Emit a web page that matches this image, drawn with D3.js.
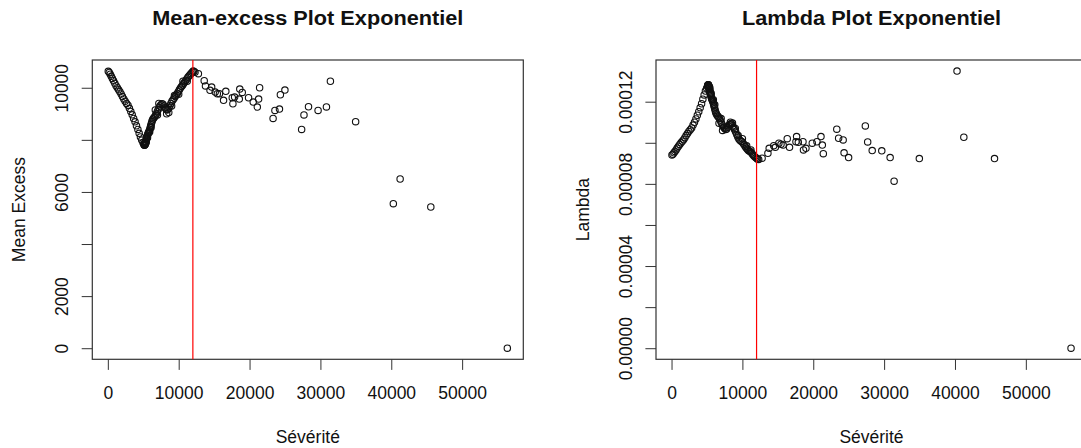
<!DOCTYPE html>
<html>
<head>
<meta charset="utf-8">
<script src="https://cdn.jsdelivr.net/npm/d3@7"></script>
<style>
  html, body { margin: 0; padding: 0; background: #fff; }
  svg { display: block; font-family: "Liberation Sans", Arial, Helvetica, sans-serif; }
</style>
</head>
<body>
<svg id="chart" width="1081" height="448"></svg>
<script>
// Seuils (sévérité) et statistiques associées
const severite = [
  60, 200, 340, 480, 640, 800, 980, 1160, 1340, 1520, 1700, 1880, 2060, 2250, 2440,
  2640, 2840, 3040, 3240, 3440, 3640, 3840, 4040, 4240, 4420, 4600, 4780, 4950, 5080,
  5110, 5140, 5170, 5200, 5230, 5260, 5290, 5320, 5350, 5380, 5410, 5440, 5470, 5510,
  5550, 5600, 5650, 5700, 5750, 5800, 5860, 5920, 5980, 6040, 6100, 6160, 6230, 6300,
  6400, 6500, 6620, 6740, 6860, 6980, 7100, 7230, 7360, 7500, 7640, 7780, 7920, 8060,
  8200, 8340, 8480, 8620, 8760, 8900, 9050, 9200, 9350, 9500, 9650, 9800, 9950, 10100,
  10250, 10400, 10550, 10700, 10850, 11000, 11150, 11300, 11450, 11600, 11750, 11900,
  12050, 12150,
  5250, 5400, 5600, 5900, 6100, 6700, 7000, 7200, 8300, 8600, 9000, 9400, 10000, 10600, 11200,
  12300, 12780, 13600, 13780, 14420, 14650, 15150, 15450, 15750, 16330, 16650, 17560,
  17650, 17890, 18550, 18620, 18970, 19860, 20520, 21090, 21280, 21420, 23320, 23580,
  24220, 24350, 24990, 27350, 27680, 28320, 29670, 30850, 31410, 34970, 40290, 41250,
  45580, 56380
];

const meanExcess = [
  10630, 10590, 10520, 10440, 10360, 10270, 10170, 10080, 10000, 9920, 9850, 9760, 9660, 9570, 9480,
  9400, 9330, 9210, 9090, 8960, 8820, 8690, 8540, 8400, 8250, 8110, 7990, 7900, 7850,
  7820, 7805, 7795, 7800, 7815, 7830, 7850, 7875, 7905, 7940, 7980, 8020, 8060, 8100,
  8135, 8175, 8215, 8250, 8280, 8310, 8350, 8400, 8460, 8520, 8580, 8640, 8700, 8760,
  8810, 8850, 8890, 8940, 9000, 9080, 9160, 9240, 9300, 9350, 9390, 9370, 9300, 9230,
  9180, 9150, 9170, 9230, 9310, 9400, 9480, 9540, 9600, 9660, 9720, 9780, 9850, 9920,
  9990, 10050, 10100, 10160, 10220, 10280, 10340, 10400, 10450, 10500, 10550, 10600,
  10640, 10620,
  7870, 7900, 8080, 8300, 8470, 9150, 8950, 9400, 9000, 9050, 9300, 9700, 9750, 10250, 10250,
  10600, 10540, 10270, 10070, 9900, 10027, 9835, 9770, 9770, 9517, 9862, 9616,
  9386, 9643, 9566, 9949, 9821, 9616, 9451, 9259, 9566, 10000, 8824, 9131,
  9182, 9732, 9912, 8400, 8955, 9270, 9131, 9265, 10250, 8696, 5549, 6497,
  5422, 0
];

const lambda = [
  0.0000941, 0.0000944, 0.0000951, 0.0000958, 0.0000965, 0.0000974, 0.0000983, 0.0000992, 0.0001000,
  0.0001008, 0.0001015, 0.0001025, 0.0001035, 0.0001045, 0.0001055, 0.0001064, 0.0001072, 0.0001086,
  0.0001100, 0.0001116, 0.0001134, 0.0001151, 0.0001171, 0.0001190, 0.0001212, 0.0001233, 0.0001252,
  0.0001266, 0.0001274,
  0.0001279, 0.0001281, 0.0001283, 0.0001282, 0.0001280, 0.0001277, 0.0001274, 0.0001270, 0.0001265,
  0.0001259, 0.0001253, 0.0001247, 0.0001241, 0.0001235, 0.0001229, 0.0001223, 0.0001217, 0.0001212,
  0.0001208, 0.0001203, 0.0001198, 0.0001190, 0.0001182, 0.0001174, 0.0001166, 0.0001157, 0.0001149,
  0.0001142, 0.0001135, 0.0001130, 0.0001125, 0.0001119, 0.0001111, 0.0001101, 0.0001092, 0.0001082,
  0.0001075, 0.0001070, 0.0001065, 0.0001067, 0.0001075, 0.0001083, 0.0001089, 0.0001093, 0.0001091,
  0.0001083, 0.0001074, 0.0001064, 0.0001052, 0.0001040, 0.0001028, 0.0001018, 0.0001012, 0.0001008,
  0.0001005, 0.0000998, 0.0000990, 0.0000982, 0.0000974, 0.0000968, 0.0000963, 0.0000959, 0.0000956,
  0.0000950, 0.0000943, 0.0000937, 0.0000932, 0.0000927, 0.0000923, 0.0000920,
  0.0001262, 0.0001268, 0.0001240, 0.0001210, 0.0001185, 0.0001095, 0.0001118, 0.0001060, 0.0001100,
  0.0001096, 0.0001070, 0.0001035, 0.0001020, 0.0000985, 0.0000965,
  0.0000919, 0.0000925, 0.0000949, 0.0000973, 0.0000986, 0.0000978, 0.0000998, 0.0000993, 0.0000989,
  0.0001020, 0.0000978, 0.0001005, 0.0001030, 0.0001002, 0.0001005, 0.0000965, 0.0000973, 0.0000998,
  0.0001005, 0.0001030, 0.0000989, 0.0000947, 0.0001066, 0.0001022, 0.0001014, 0.0000951, 0.0000928,
  0.0001082, 0.0001004, 0.0000962, 0.0000961, 0.0000928, 0.0000813, 0.0000923, 0.0001349, 0.0001027,
  0.0000923, 0
];

// Seuil retenu (ligne verticale rouge)
const seuil = 12000;

// Graduations
const xTicks = [0, 10000, 20000, 30000, 40000, 50000];
const yTicksME = [0, 2000, 4000, 6000, 8000, 10000];
const yLabelsME = [0, 2000, 6000, 10000];
const yTicksLambda = [0, 0.00002, 0.00004, 0.00006, 0.00008, 0.0001, 0.00012];
const yLabelsLambda = [0, 0.00004, 0.00008, 0.00012];

const svg = d3.select("#chart");
svg.append("rect").attr("width", 1081).attr("height", 448).attr("fill", "#fff");

const TOP = 60, BOTTOM = 359.3, PW = 431;
const INK = "#111";

function drawPanel(cfg) {
  const g = svg.append("g");
  const left = cfg.left;

  const [x0, x1] = d3.extent(severite);
  const xPad = (x1 - x0) * 0.04;
  const x = d3.scaleLinear().domain([x0 - xPad, x1 + xPad]).range([left, left + PW]);

  const [y0, y1] = d3.extent(cfg.values);
  const yPad = (y1 - y0) * 0.04;
  const y = d3.scaleLinear().domain([y0 - yPad, y1 + yPad]).range([BOTTOM, TOP]);

  // axe des abscisses
  const gx = g.append("g")
    .attr("transform", `translate(0,${BOTTOM})`)
    .call(d3.axisBottom(x).tickValues(xTicks).tickSize(10.6).tickPadding(16.2)
      .tickFormat(d3.format("d")));
  gx.select(".domain").remove();
  gx.selectAll("line").attr("stroke", "#333").attr("stroke-width", 1);
  gx.selectAll("text").attr("fill", INK).style("font-size", "17.5px")
    .style("font-family", "'Liberation Sans', Arial, sans-serif");

  // axe des ordonnées (étiquettes verticales)
  const gy = g.append("g")
    .attr("transform", `translate(${left},0)`)
    .call(d3.axisLeft(y).tickValues(cfg.yTicks).tickSize(10.6)
      .tickFormat(d => cfg.yLabels.includes(d) ? cfg.fmt(d) : ""));
  gy.select(".domain").remove();
  gy.selectAll("line").attr("stroke", "#333").attr("stroke-width", 1);
  gy.selectAll("text")
    .attr("fill", INK)
    .attr("transform", "rotate(-90)")
    .attr("x", 0).attr("y", -24.3).attr("dy", 0)
    .attr("text-anchor", "middle")
    .style("font-size", "17.5px")
    .style("font-family", "'Liberation Sans', Arial, sans-serif");

  // cadre
  g.append("rect")
    .attr("x", left).attr("y", TOP)
    .attr("width", PW).attr("height", BOTTOM - TOP)
    .attr("fill", "none").attr("stroke", "#333").attr("stroke-width", 1.2);

  // points
  g.append("g").selectAll("circle")
    .data(severite.map((s, i) => [s, cfg.values[i]]))
    .join("circle")
    .attr("cx", d => x(d[0]))
    .attr("cy", d => y(d[1]))
    .attr("r", 3.2)
    .attr("fill", "none")
    .attr("stroke", INK)
    .attr("stroke-width", 1.1);

  // seuil
  g.append("line")
    .attr("x1", x(seuil)).attr("x2", x(seuil))
    .attr("y1", TOP).attr("y2", BOTTOM)
    .attr("stroke", "#ff0000").attr("stroke-width", 1.2);

  // titres
  g.append("text")
    .attr("x", left + PW / 2).attr("y", 25)
    .attr("text-anchor", "middle")
    .attr("fill", INK)
    .style("font-size", "20px").style("font-weight", "bold")
    .attr("textLength", cfg.titleLen).attr("lengthAdjust", "spacingAndGlyphs")
    .text(cfg.title);

  g.append("text")
    .attr("x", left + PW / 2).attr("y", 443)
    .attr("text-anchor", "middle")
    .attr("fill", INK)
    .style("font-size", "17.5px")
    .text("Sévérité");

  g.append("text")
    .attr("transform", `translate(${left - 67.3},${(TOP + BOTTOM) / 2}) rotate(-90)`)
    .attr("text-anchor", "middle")
    .attr("fill", INK)
    .style("font-size", "17.5px")
    .text(cfg.yTitle);
}

drawPanel({
  left: 92.3,
  values: meanExcess,
  yTicks: yTicksME,
  yLabels: yLabelsME,
  fmt: d3.format("d"),
  title: "Mean-excess Plot Exponentiel",
  titleLen: 311,
  yTitle: "Mean Excess"
});

drawPanel({
  left: 656,
  values: lambda,
  yTicks: yTicksLambda,
  yLabels: yLabelsLambda,
  fmt: d => d.toFixed(5),
  title: "Lambda Plot Exponentiel",
  titleLen: 259,
  yTitle: "Lambda"
});
</script>
</body>
</html>
